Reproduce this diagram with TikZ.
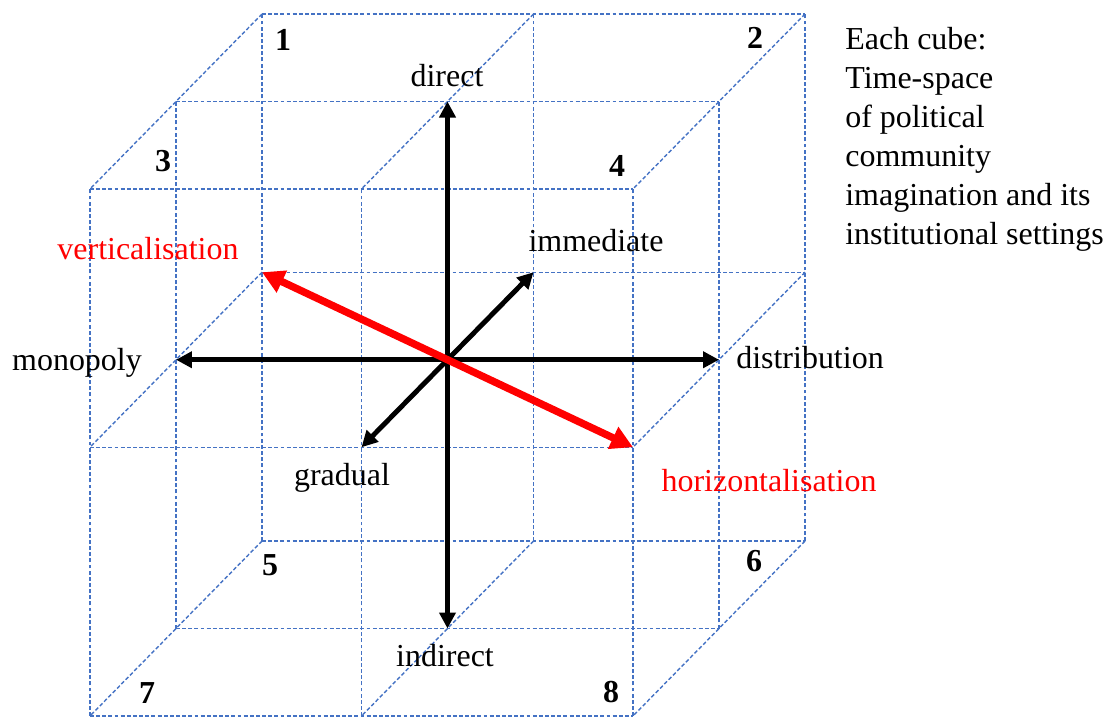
\documentclass[tikz,border=0pt]{standalone}
\usepackage{fontspec}
\setmainfont{Liberation Serif}
\usetikzlibrary{arrows.meta}
\definecolor{latblue}{RGB}{68,114,196}
\definecolor{turnred}{RGB}{255,0,0}

\begin{document}
\begin{tikzpicture}[x=0.02cm, y=-0.02cm,
    font=\fontsize{18.2}{22.2}\selectfont,
    latline/.style={latblue, line width=0.8pt, dash pattern=on 2.2pt off 1.3pt},
    axis/.style={{Triangle[length=0.32cm,width=0.32cm]}-{Triangle[length=0.32cm,width=0.32cm]}, line width=2.8pt},
    turn/.style={turnred, {Triangle[length=0.44cm,width=0.46cm]}-{Triangle[length=0.44cm,width=0.46cm]}, line width=4.2pt},
    num/.style={font=\fontsize{18.2}{22.2}\selectfont\bfseries},
    turnlabel/.style={text=turnred}]
    \useasboundingbox (0,0) rectangle (1110,718);

    % Lattice points (i = left to right, j = bottom to top, k = back to front)
    \foreach \i in {0,1,2}
        \foreach \j/\jj in {0/0,1/1.02,2/2}
            \foreach \k in {0,1,2}
                \coordinate (p\i\j\k) at ({262+271.5*\i-86*\k},{541-263.5*\jj+87.5*\k});

    % Lattice lines
    \foreach \a in {0,1,2}
        \foreach \b in {0,1,2} {
            \draw[latline] (p0\a\b) -- (p2\a\b);
            \draw[latline] (p\a0\b) -- (p\a2\b);
            \draw[latline] (p\a\b0) -- (p\a\b2);
        }

    % Cube numbers
    \node[num] (n1) at (283,40) {1};
    \node[num] (n2) at (755,38) {2};
    \node[num] (n3) at (163,161) {3};
    \node[num] (n4) at (617,166) {4};
    \node[num] (n5) at (270,565) {5};
    \node[num] (n6) at (754,561) {6};
    \node[num] (n7) at (147,693) {7};
    \node[num] (n8) at (611,692) {8};

    % Axes
    \draw[axis] (p121) -- (p101);
    \draw[axis] (p011) -- (p211);
    \draw[axis] (p110) -- (p112);
    \draw[turn] (p010) -- (p212);

    % Axis labels
    \node (direct) at (447,76) {direct};
    \node (indirect) at (445,656) {indirect};
    \node (monopoly) at (77,363) {monopoly};
    \node (distribution) at (810,358) {distribution};
    \node (immediate) at (596,241) {immediate};
    \node (gradual) at (342,478) {gradual};
    \node[turnlabel] (vert) at (148,249) {verticalisation};
    \node[turnlabel] (horiz) at (769,481) {horizontalisation};

    % Note
    \node[align=left, anchor=north west, inner sep=0pt] (note) at (845,27)
        {Each cube:\\Time-space\\of political\\community\\imagination and its\\institutional settings};
\end{tikzpicture}
\end{document}
